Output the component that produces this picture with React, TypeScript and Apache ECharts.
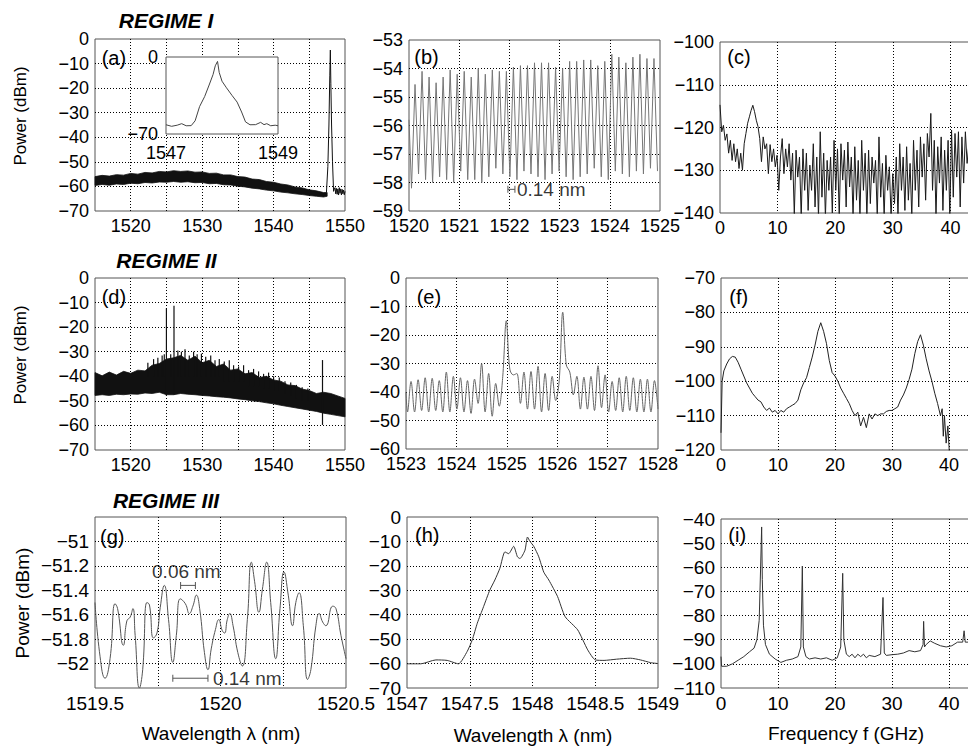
import React, { useEffect, useRef } from 'react';
import * as echarts from 'echarts';

const FONT = '"Liberation Sans", Arial, Helvetica, sans-serif';
const CW = 1040;
const CH = 746;
const MINUS = '\u2212';

// ---------- (a) Regime I optical spectrum ----------
const aBandX = [1515, 1516, 1517, 1518, 1519, 1520, 1521, 1522, 1523, 1524, 1525, 1526, 1527, 1528, 1529, 1530, 1531, 1532, 1533, 1534, 1535, 1536, 1537, 1538, 1539, 1540, 1541, 1542, 1543, 1544, 1545, 1546, 1547, 1547.5];
const aBandUpper = [-56.0, -55.5, -55.8, -55.2, -55.4, -54.7, -55.0, -54.3, -54.5, -53.9, -54.1, -53.6, -53.9, -53.7, -54.2, -54.1, -54.7, -54.6, -55.3, -55.3, -56.0, -56.2, -57.0, -57.2, -58.0, -58.3, -59.0, -59.4, -60.2, -60.6, -61.4, -61.8, -62.5, -62.5];
const aBandLower = [-59.6, -59.2, -59.5, -59.0, -59.2, -58.7, -58.9, -58.4, -58.6, -58.2, -58.3, -58.0, -58.3, -58.1, -58.5, -58.4, -58.9, -58.8, -59.3, -59.4, -59.9, -60.2, -60.7, -61.0, -61.5, -61.8, -62.3, -62.6, -63.0, -63.3, -63.7, -64.0, -64.3, -64.0];
const aPeak = [[1547.4, -62.5], [1547.6, -52], [1547.75, -35], [1547.87, -15], [1547.95, -4.5], [1548.02, -18], [1548.12, -35], [1548.25, -50], [1548.4, -62], [1548.5, -61], [1548.6, -60.5], [1548.7, -63], [1548.8, -60.8], [1548.9, -63.2], [1549.0, -61], [1549.1, -63.5], [1549.2, -60.5], [1549.3, -62.8], [1549.4, -61], [1549.5, -63.5], [1549.6, -61.2], [1549.7, -63], [1549.8, -61.5], [1549.9, -63.4], [1550, -62]];
const insetData = [[1547, -61.6], [1547.1, -63], [1547.2, -62], [1547.28, -60.6], [1547.36, -62.5], [1547.45, -62.4], [1547.52, -58], [1547.6, -45], [1547.69, -36], [1547.77, -25.5], [1547.84, -16], [1547.88, -8], [1547.92, -4], [1547.95, -14], [1548.0, -22], [1548.08, -28], [1548.18, -35], [1548.27, -41], [1548.35, -50], [1548.42, -59], [1548.5, -61.6], [1548.6, -61.5], [1548.69, -59.4], [1548.75, -61.5], [1548.8, -60.6], [1548.87, -62.5], [1548.95, -62], [1549, -62.5]];

// ---------- (b) Regime I zoom ----------
const bStart = 1520.05;
const bStep = 0.07;
const bFirst = [1520, -55.8];
const bTroughs = [-58.2, -57.7, -57.9, -58.0, -57.8, -57.9, -58.0, -57.6, -57.9, -57.9, -58.0, -57.8, -57.5, -57.7, -57.8, -57.9, -57.6, -57.7, -57.8, -57.9, -57.7, -57.6, -57.8, -57.9, -57.8, -57.7, -57.5, -57.8, -57.9, -57.6, -57.7, -57.8, -57.6, -57.7, -57.5, -57.6];
const bPeaks = [-54.56, -54.1, -54.3, -54.5, -54.3, -54.05, -54.2, -54.1, -54.3, -54.0, -54.2, -54.05, -54.1, -54.1, -53.95, -53.9, -53.9, -53.8, -53.8, -53.8, -53.95, -54.0, -53.75, -53.75, -53.7, -53.7, -53.9, -53.75, -53.5, -53.6, -53.8, -53.6, -53.5, -53.65, -53.65];
const bBracket = [[1521.97, -58.24], [1522.11, -58.24]];

// ---------- (c) Regime I RF spectrum ----------
const cStart = 0;
const cStep = 0.3;
const cVals = [-114.7, -121, -119.5, -123, -121.5, -126, -123, -127.7, -123.8, -128, -125, -129.6, -126, -130, -123.8, -121.4, -119, -117.5, -116, -114.8, -116.3, -118.3, -119.8, -122.6, -128, -122.2, -125, -123.8, -130.8, -124, -128, -125, -129.2, -126.5, -134.7, -126.9, -122.6, -130.8, -125, -129.2, -123.8, -132.3, -126, -140.5, -125.3, -131.6, -126.9, -141, -125, -134.7, -126, -139.4, -128.8, -134.7, -123.8, -138.6, -126.9, -141, -121, -136.3, -126, -141, -127.7, -134.7, -126.9, -140, -123, -134.7, -125, -141, -123.8, -132.3, -125.3, -138.6, -123.4, -133.9, -126.9, -141, -124.5, -137, -127.7, -141, -123, -134.7, -126, -141, -125.3, -137.8, -126.9, -133, -127.7, -141, -122.2, -136.3, -128.4, -141, -126.5, -134.7, -129.2, -141, -130.8, -137.8, -126.9, -141, -123.8, -134.7, -126.9, -139.4, -124.5, -137, -128.4, -141, -123, -134.7, -125.3, -138.6, -122.2, -131.6, -123.8, -137, -121.4, -126.9, -116.7, -134.7, -123, -141, -124.5, -133, -122.2, -139.4, -125.3, -134.7, -123, -141, -120.6, -136.3, -121.4, -131.6, -121, -138.6, -122.2, -133, -121, -128.4, -124, -133];

// ---------- (d) Regime II optical spectrum ----------
const dBandX = [1515, 1516, 1517, 1518, 1519, 1520, 1521, 1522, 1523, 1524, 1525, 1526, 1527, 1528, 1529, 1530, 1531, 1532, 1533, 1534, 1535, 1536, 1537, 1538, 1539, 1540, 1541, 1542, 1543, 1544, 1545, 1546, 1547, 1548, 1549, 1550];
const dBandUpper = [-38.5, -39.8, -38.3, -39.5, -38.0, -38.8, -37.5, -37.8, -35.5, -34.8, -33.0, -32.5, -31.5, -33.5, -31.8, -34.5, -33.5, -36.0, -35.0, -37.5, -37.0, -39.0, -38.5, -40.5, -40.0, -41.5, -42.0, -43.5, -43.8, -45.2, -45.8, -47.0, -46.5, -47.0, -48.0, -49.0];
const dBandLower = [-47.8, -47.5, -47.8, -47.3, -47.5, -47.2, -47.3, -46.8, -47.0, -46.5, -47.5, -47.5, -47.0, -47.3, -47.5, -47.8, -48.0, -48.3, -48.5, -48.8, -49.2, -49.5, -50.0, -50.3, -50.8, -51.2, -51.8, -52.3, -52.8, -53.3, -53.8, -54.3, -55.0, -55.5, -56.0, -56.5];
// [wavelength, top, bottom]
const dSpikes = [[1525.0, -12.3, -48], [1526.06, -11.3, -47.5], [1546.85, -33.4, -59.8], [1522.4, -34.5, -40], [1523.2, -33, -40], [1523.8, -32.5, -40], [1524.4, -31.5, -40], [1524.7, -31, -40], [1525.6, -31, -40], [1526.6, -29.5, -40], [1527.1, -30, -40], [1527.6, -29, -40], [1528.2, -31.5, -40], [1528.8, -30, -40], [1529.3, -31, -40], [1529.9, -30.8, -40], [1530.5, -32, -40], [1531.2, -31.5, -40], [1531.8, -33.5, -40], [1532.4, -33, -40], [1533.1, -34, -42], [1533.8, -33.5, -42], [1534.4, -35.5, -42], [1535.1, -36, -42], [1535.8, -35.5, -42], [1536.5, -37.5, -44], [1537.2, -37, -44], [1537.9, -38, -44], [1538.6, -39, -45], [1539.3, -38.5, -45], [1540, -40, -46], [1540.8, -40.5, -46], [1541.6, -42, -47], [1542.4, -42.5, -48], [1543.2, -43.5, -49], [1544, -44.5, -50], [1544.8, -45, -50]];

// ---------- (e) Regime II zoom ----------
const eStart = 1523.03;
const eStep = 0.07;
const eFirst = [1523, -40];
const eLast = [1528, -46];
const eVals = [-47, -36.3, -47, -35.7, -46.5, -35, -47, -35.2, -46.5, -36, -47, -33, -47, -34.5, -46, -35, -47, -36, -47.5, -35.5, -44, -30, -47, -33.5, -48.5, -37, -45, -34.5, -15, -32, -34, -33.5, -44, -33, -46, -32.8, -46, -31, -47, -33.5, -46.5, -34.5, -43, -36, -12, -30.5, -33, -41, -34.5, -46, -34.8, -46, -34.5, -46.5, -30.8, -45.5, -34, -47, -36.3, -46.5, -35, -47, -34.5, -46.5, -35, -47, -35.5, -47, -35.5, -47, -36];

// ---------- (f) Regime II RF spectrum ----------
const fData = [[0, -115], [0.2, -100], [0.5, -97], [1, -95], [1.5, -93.5], [2, -92.8], [2.5, -93], [3, -94.5], [3.5, -96.5], [4, -98.5], [4.5, -100.5], [5, -102], [5.5, -103.5], [6, -104.5], [6.5, -105.5], [7, -106], [7.5, -107.5], [8, -108.5], [8.5, -107.8], [9, -109], [9.5, -108.5], [10, -109.5], [10.5, -108.5], [11, -109], [11.5, -108], [12, -107.5], [12.5, -107], [13, -106.5], [13.5, -105.5], [14, -102.5], [14.5, -100.5], [15, -99], [15.5, -96], [16, -93], [16.5, -89.5], [17, -85.5], [17.5, -83], [18, -85.5], [18.5, -89], [19, -94], [19.5, -97.5], [20, -98.5], [20.5, -100], [21, -102], [21.5, -103.5], [22, -105], [22.5, -106.5], [23, -108.5], [23.5, -110], [24, -109], [24.5, -113], [25, -110.5], [25.5, -113.5], [26, -109.5], [26.5, -111], [27, -109.5], [27.5, -110], [28, -109.5], [28.5, -109.5], [29, -108.8], [29.5, -108.5], [30, -108.5], [30.5, -108], [31, -107.5], [31.5, -105.5], [32, -104], [32.5, -102], [33, -99.5], [33.5, -96.5], [34, -92], [34.5, -88.5], [35, -86.5], [35.5, -89.5], [36, -93.5], [36.5, -97], [37, -100], [37.5, -103.5], [38, -106.5], [38.5, -110], [38.8, -108], [39, -116], [39.2, -110], [39.5, -118], [39.8, -113], [40, -119], [40.2, -125]];

// ---------- (g) Regime III zoom ----------
const gData = [[1519.5, -51.5], [1519.52, -51.94], [1519.54, -52.12], [1519.56, -51.96], [1519.58, -51.51], [1519.59, -51.55], [1519.613, -51.85], [1519.627, -51.65], [1519.64, -51.62], [1519.651, -51.55], [1519.66, -51.77], [1519.677, -52.2], [1519.69, -52.05], [1519.707, -51.5], [1519.717, -51.52], [1519.733, -51.79], [1519.747, -51.75], [1519.76, -51.54], [1519.776, -51.36], [1519.793, -51.64], [1519.81, -51.99], [1519.824, -51.77], [1519.84, -51.47], [1519.86, -51.51], [1519.876, -51.59], [1519.89, -51.53], [1519.904, -51.44], [1519.917, -51.55], [1519.936, -51.91], [1519.95, -52.05], [1519.963, -51.88], [1519.98, -51.72], [1519.993, -51.64], [1520.007, -51.73], [1520.016, -51.75], [1520.027, -51.64], [1520.037, -51.59], [1520.05, -51.69], [1520.069, -51.91], [1520.087, -52.02], [1520.107, -51.64], [1520.123, -51.17], [1520.136, -51.33], [1520.153, -51.58], [1520.167, -51.39], [1520.184, -51.17], [1520.2, -51.5], [1520.22, -51.96], [1520.237, -51.55], [1520.253, -51.25], [1520.27, -51.44], [1520.287, -51.69], [1520.3, -51.5], [1520.313, -51.42], [1520.33, -51.69], [1520.347, -52.13], [1520.36, -52.05], [1520.38, -51.69], [1520.393, -51.59], [1520.407, -51.66], [1520.42, -51.69], [1520.447, -51.53], [1520.46, -51.55], [1520.48, -51.77], [1520.5, -51.96]];
const gBracketSmall = [[1519.841, -51.36], [1519.9, -51.36]];
const gBracketLarge = [[1519.81, -52.12], [1519.95, -52.12]];

// ---------- (h) Regime III optical spectrum ----------
const hData = [[1547, -60.1], [1547.11, -60.1], [1547.23, -58.5], [1547.32, -58.7], [1547.41, -60.1], [1547.48, -55], [1547.52, -50.3], [1547.56, -43.5], [1547.61, -36.7], [1547.66, -29.9], [1547.7, -25.8], [1547.74, -21], [1547.78, -14.3], [1547.81, -15], [1547.85, -12], [1547.88, -16.3], [1547.9, -17], [1547.94, -13.6], [1547.96, -8.2], [1547.98, -10], [1548.01, -12], [1548.05, -16.3], [1548.09, -22.6], [1548.13, -25.8], [1548.2, -32.6], [1548.26, -40.8], [1548.36, -46.2], [1548.44, -54.4], [1548.5, -58.5], [1548.57, -58.7], [1548.67, -58.2], [1548.78, -57.8], [1548.86, -58.5], [1548.94, -59.6], [1549, -60]];

// ---------- (i) Regime III RF spectrum ----------
const iData = [[0, -97], [0.1, -101], [1, -101], [2, -100], [3, -98.5], [4, -97], [5, -95], [5.8, -93.5], [6.3, -90], [6.7, -82], [6.95, -60], [7.13, -43.3], [7.25, -65], [7.45, -84], [7.8, -92], [8.5, -96], [9.5, -98], [10.5, -99.4], [11.5, -98.5], [12.5, -98], [13.5, -97], [14.0, -93], [14.27, -59.5], [14.45, -93], [14.9, -97], [15.5, -98], [16.5, -97.5], [17.5, -98], [18.5, -97.5], [19.5, -98.5], [20.4, -97.5], [21.0, -93], [21.35, -62.5], [21.55, -90], [22.0, -96], [22.5, -97], [23, -96], [23.5, -97.5], [24, -96], [24.5, -97], [25, -96], [25.5, -97.5], [26, -96.5], [27, -97], [28.0, -96], [28.42, -72.5], [28.65, -95.5], [29, -96.5], [30, -96.2], [31, -96], [32, -95.5], [33, -94.5], [34, -95], [35, -94.5], [35.45, -92], [35.55, -82.4], [35.7, -93], [36, -92], [36.7, -90.5], [37.5, -91.5], [38.5, -92.5], [39.5, -93], [40.5, -92.5], [41.5, -91], [42.4, -91], [42.65, -86.3], [42.85, -91], [43.5, -91], [44, -90]];

// ---------- axis tick settings ----------
const axisRanges = {
  a: { x: [1515, 1550, 5], y: [-70, 0, 10] },
  inset: { x: [1547, 1549, 2], y: [-70, 0, 70] },
  b: { x: [1520, 1525, 1], y: [-59, -53, 1] },
  c: { x: [0, 50, 10], y: [-140, -100, 10] },
  d: { x: [1515, 1550, 5], y: [-70, 0, 10] },
  e: { x: [1523, 1528, 1], y: [-60, 0, 10] },
  f: { x: [0, 50, 10], y: [-120, -70, 10] },
  g: { x: [1519.5, 1520.5, 0.25], y: [-52.2, -50.8, 0.2] },
  h: { x: [1547, 1549, 0.5], y: [-70, 0, 10] },
  i: { x: [0, 50, 10], y: [-110, -40, 10] },
};

// layout (pixel boxes of each panel: left, top, right, bottom)
const panels = [
  { key: 'a', l: 95, t: 39, r: 345, b: 211, fs: 18 },
  { key: 'inset', l: 166, t: 57, r: 278, b: 134, fs: 18 },
  { key: 'b', l: 409, t: 40, r: 660, b: 211, fs: 18 },
  { key: 'c', l: 720, t: 42, r: 1008, b: 213, fs: 18 },
  { key: 'd', l: 95, t: 278, r: 345, b: 450, fs: 18 },
  { key: 'e', l: 406, t: 278, r: 658, b: 449, fs: 18 },
  { key: 'f', l: 721, t: 278, r: 1006, b: 450, fs: 18 },
  { key: 'g', l: 95, t: 517, r: 346, b: 688, fs: 19 },
  { key: 'h', l: 407, t: 517, r: 658, b: 688, fs: 19 },
  { key: 'i', l: 721, t: 519, r: 1006, b: 688, fs: 19 },
];

function num(v: number): string {
  const r = Math.round(v * 1000) / 1000;
  if (r === 0) return '0';
  return (r < 0 ? MINUS : '') + String(Math.abs(r));
}
const freqLabel = (v: number) => (v > 45 ? '' : num(v));

const xFormatters: Record<string, (v: number) => string> = {
  a: (v) => (Math.abs(Math.round(v) % 10) === 0 ? num(v) : ''),
  d: (v) => (Math.abs(Math.round(v) % 10) === 0 ? num(v) : ''),
  g: (v) => (Math.abs(v * 2 - Math.round(v * 2)) < 1e-6 ? num(v) : ''),
  c: freqLabel,
  f: freqLabel,
  i: freqLabel,
};
const yFormatters: Record<string, (v: number) => string> = {
  g: (v) => (v < -52.1 || v > -50.9 ? '' : num(v)),
};

function bandPolygon(api: any, xs: number[], up: number[], lo: number[], color: string) {
  const pts: number[][] = [];
  for (let i = 0; i < xs.length; i++) pts.push(api.coord([xs[i], up[i]]));
  for (let i = xs.length - 1; i >= 0; i--) pts.push(api.coord([xs[i], lo[i]]));
  return { type: 'polygon', shape: { points: pts }, style: { fill: color, stroke: color, lineWidth: 0.8 } };
}

function lineSeries(idx: number, data: any[], color: string, extra: any = {}) {
  return {
    type: 'line', xAxisIndex: idx, yAxisIndex: idx, data, showSymbol: false, symbol: 'none',
    lineStyle: { color, width: 1 }, itemStyle: { color }, silent: true, clip: true, z: 3, ...extra,
  };
}

function bracketSeries(idx: number, data: number[][], color: string) {
  return {
    type: 'line', xAxisIndex: idx, yAxisIndex: idx, data, showSymbol: true, symbol: 'rect',
    symbolSize: [1, 7], lineStyle: { color, width: 1 }, itemStyle: { color }, silent: true, z: 4,
  };
}

function textSeries(idx: number, point: number[], text: string, position: string, distance: number, fs: number) {
  return {
    type: 'scatter', xAxisIndex: idx, yAxisIndex: idx, data: [point], symbolSize: 0, silent: true, z: 4,
    label: { show: true, formatter: text, position, distance, fontSize: fs, fontFamily: FONT, color: '#000' },
  };
}

function buildOption() {
  const gridLine = { type: [1, 2], color: '#000', width: 1 };
  const grid = panels.map((p) => ({
    left: p.l, top: p.t, width: p.r - p.l, height: p.b - p.t,
    show: true, borderColor: '#555', borderWidth: 1,
    backgroundColor: p.key === 'inset' ? '#fff' : 'transparent',
    z: p.key === 'inset' ? 5 : 0,
  }));
  const xAxis = panels.map((p, i) => {
    const [min, max, interval] = (axisRanges as any)[p.key].x;
    const inset = p.key === 'inset';
    return {
      type: 'value', gridIndex: i, min, max, interval, z: inset ? 6 : 0,
      axisLine: { show: false }, axisTick: { show: false },
      splitLine: { show: !inset, showMinLine: false, showMaxLine: false, lineStyle: gridLine },
      axisLabel: {
        fontSize: p.fs, fontFamily: FONT, color: '#000', margin: inset ? 10 : 6,
        showMinLabel: true, showMaxLabel: true, hideOverlap: false,
        formatter: xFormatters[p.key] || num,
      },
    };
  });
  const yAxis = panels.map((p, i) => {
    const [min, max, interval] = (axisRanges as any)[p.key].y;
    const inset = p.key === 'inset';
    return {
      type: 'value', gridIndex: i, min, max, interval, z: inset ? 6 : 0,
      axisLine: { show: false }, axisTick: { show: false },
      splitLine: { show: !inset, showMinLine: false, showMaxLine: false, lineStyle: gridLine },
      axisLabel: {
        fontSize: p.fs, fontFamily: FONT, color: '#000', margin: inset ? 8 : 6,
        showMinLabel: true, showMaxLabel: true, hideOverlap: false,
        formatter: yFormatters[p.key] || num,
      },
    };
  });

  const bData: number[][] = [bFirst];
  bTroughs.forEach((t, k) => {
    bData.push([bStart + 2 * k * bStep, t]);
    if (k < bPeaks.length) bData.push([bStart + (2 * k + 1) * bStep, bPeaks[k]]);
  });
  const cData = cVals.map((v, i) => [cStart + i * cStep, v]);
  const eData = [eFirst, ...eVals.map((v, i) => [eStart + i * eStep, v]), eLast];

  const series: any[] = [
    // (a)
    {
      type: 'custom', xAxisIndex: 0, yAxisIndex: 0, coordinateSystem: 'cartesian2d', silent: true, z: 2,
      data: [[aBandX[0], aBandUpper[0]]],
      renderItem: (_p: any, api: any) => bandPolygon(api, aBandX, aBandUpper, aBandLower, '#111'),
    },
    lineSeries(0, aPeak, '#111'),
    lineSeries(1, insetData, '#444', { z: 7 }),
    // (b)
    lineSeries(2, bData, '#777'),
    bracketSeries(2, bBracket, '#555'),
    textSeries(2, bBracket[1], '0.14 nm', 'right', 2, 19),
    // (c)
    lineSeries(3, cData, '#1a1a1a'),
    // (d)
    {
      type: 'custom', xAxisIndex: 4, yAxisIndex: 4, coordinateSystem: 'cartesian2d', silent: true, z: 2,
      data: [[dBandX[0], dBandUpper[0]]],
      renderItem: (_p: any, api: any) => bandPolygon(api, dBandX, dBandUpper, dBandLower, '#111'),
    },
    {
      type: 'custom', xAxisIndex: 4, yAxisIndex: 4, coordinateSystem: 'cartesian2d', silent: true, z: 3,
      data: dSpikes, encode: { x: 0, y: [1, 2] },
      renderItem: (_p: any, api: any) => {
        const x = api.value(0);
        const p1 = api.coord([x, api.value(1)]);
        const p2 = api.coord([x, api.value(2)]);
        return { type: 'line', shape: { x1: p1[0], y1: p1[1], x2: p2[0], y2: p2[1] }, style: { stroke: '#111', lineWidth: 1.2 } };
      },
    },
    // (e)
    lineSeries(5, eData, '#666', { smooth: 0.35 }),
    // (f)
    lineSeries(6, fData, '#222'),
    // (g)
    lineSeries(7, gData, '#555', { smooth: 0.5 }),
    bracketSeries(7, gBracketSmall, '#555'),
    bracketSeries(7, gBracketLarge, '#555'),
    textSeries(7, [1519.864, -51.25], '0.06 nm', 'inside', 0, 19),
    textSeries(7, gBracketLarge[1], '0.14 nm', 'right', 5, 19),
    // (h)
    lineSeries(8, hData, '#333', { smooth: 0.2 }),
    // (i)
    lineSeries(9, iData, '#333'),
  ];

  const txt = (x: number, y: number, text: string, font: string, align = 'left', rotation = 0) => ({
    type: 'text', x, y, rotation, z: 20, silent: true,
    style: { text, font, fill: '#000', textAlign: align, textVerticalAlign: 'middle' },
  });
  const titleFont = `italic bold 21px ${FONT}`;
  const letterFont = `20px ${FONT}`;
  const graphic = [
    txt(166, 20.5, 'REGIME I', titleFont, 'center'),
    txt(166.5, 260.8, 'REGIME II', titleFont, 'center'),
    txt(166, 500.6, 'REGIME III', titleFont, 'center'),
    txt(101.7, 58, '(a)', letterFont),
    txt(414.3, 56.7, '(b)', letterFont),
    txt(727.3, 56.7, '(c)', letterFont),
    txt(101.7, 296.7, '(d)', letterFont),
    txt(416.7, 296.7, '(e)', letterFont),
    txt(729.3, 296.7, '(f)', letterFont),
    txt(100, 536.7, '(g)', letterFont),
    txt(415, 535, '(h)', letterFont),
    txt(728.3, 535, '(i)', letterFont),
    txt(20, 116, 'Power (dBm)', `17px ${FONT}`, 'center', Math.PI / 2),
    txt(20, 355, 'Power (dBm)', `17px ${FONT}`, 'center', Math.PI / 2),
    txt(22, 603, 'Power (dBm)', `19px ${FONT}`, 'center', Math.PI / 2),
    txt(221, 733.3, 'Wavelength \u03bb (nm)', `19px ${FONT}`, 'center'),
    txt(533, 735, 'Wavelength \u03bb (nm)', `19px ${FONT}`, 'center'),
    txt(846, 733, 'Frequency f (GHz)', `19px ${FONT}`, 'center'),
  ];

  return {
    animation: false,
    backgroundColor: '#fff',
    textStyle: { fontFamily: FONT },
    grid, xAxis, yAxis, series, graphic,
  };
}

export default function App() {
  const ref = useRef<HTMLDivElement>(null);
  useEffect(() => {
    if (!ref.current) return;
    const chart = echarts.init(ref.current, undefined, { renderer: 'svg', width: CW, height: CH });
    chart.setOption(buildOption() as any);
    return () => chart.dispose();
  }, []);
  return (
    <div style={{ position: 'fixed', left: 0, top: 0, width: 968, height: 746, overflow: 'hidden', background: '#fff' }}>
      <div ref={ref} style={{ width: CW, height: CH }} />
    </div>
  );
}
